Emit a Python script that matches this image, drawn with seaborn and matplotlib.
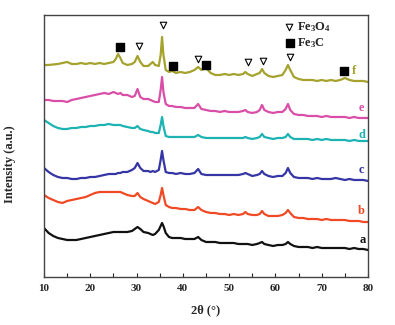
import numpy as np
import pandas as pd
import matplotlib
matplotlib.use("Agg")
import matplotlib.pyplot as plt
import seaborn as sns

two_theta = [10, 11, 12, 13, 14, 15, 16, 17, 18, 19, 20, 21, 22, 23, 24, 25, 25.5, 26, 26.5, 27,
             28, 29, 29.6, 30.2, 30.8, 31.5, 32.5, 33, 33.5, 34, 34.8, 35.2, 35.5, 35.8, 36.3, 37,
             37.7, 38.5, 39.5, 40.5, 41.5, 42.5, 43.3, 44, 45, 46, 47, 48, 49, 50, 51, 52, 53, 53.5,
             54, 55, 56, 56.6, 57.1, 57.6, 58.5, 59.5, 60.5, 61.5, 62.2, 62.7, 63.2, 64, 65, 66, 67,
             68, 69, 70, 71, 72, 73, 74, 75, 76, 77, 78, 79, 80]

f_int = [212, 212, 212.5, 213, 214, 215, 213, 213, 214, 213, 214, 213, 214, 213, 214, 215, 218, 223, 219, 214,
         212, 213, 215, 221, 215, 211, 211, 213, 215, 212, 211, 222, 240, 222, 207, 205,
         206, 204, 205, 204, 205, 207, 210, 207, 209, 204, 202, 202, 203, 202, 203, 202, 203, 205,
         203, 201, 203, 204, 208, 204, 201, 200, 201, 202, 207, 212, 207, 200, 198, 197, 197,
         197, 196, 197, 196, 197, 196, 197, 199, 197, 196, 196, 196, 195]
e_int = [177, 177, 176, 176, 176, 175, 177, 178, 179, 180, 181, 182, 183, 184, 183, 185, 184, 183, 184, 182,
         182, 180, 181, 188, 180, 178, 178, 177, 176, 175, 175, 187, 200, 185, 173, 171,
         171, 170, 170, 169, 169, 169, 173, 168, 167, 166, 166, 165, 166, 165, 165, 165, 166, 167,
         165, 164, 165, 167, 172, 167, 165, 164, 165, 165, 168, 173, 167, 163, 162, 162, 161,
         161, 161, 160, 161, 160, 160, 160, 160, 159, 160, 159, 159, 159]
d_int = [157, 154, 151, 149, 148, 148, 149, 149, 150, 150, 151, 151, 152, 152, 153, 152, 152, 152, 152, 151,
         150, 149, 149, 151, 148, 147, 146, 145, 145, 144, 144, 152, 160, 151, 141, 140,
         140, 140, 140, 140, 140, 140, 142, 140, 139, 139, 139, 139, 139, 139, 139, 139, 139, 140,
         139, 138, 139, 140, 143, 140, 139, 138, 139, 139, 140, 143, 140, 138, 138, 138, 138,
         137, 138, 137, 138, 137, 137, 137, 137, 136, 137, 136, 136, 136]
c_int = [109, 105, 102, 100, 99, 99, 98, 98, 99, 99, 100, 100, 101, 102, 103, 103, 103, 104, 104, 105,
         105, 107, 109, 114, 109, 106, 106, 105, 106, 105, 107, 117, 126, 117, 105, 104,
         104, 103, 104, 103, 103, 104, 108, 103, 102, 102, 102, 102, 102, 102, 102, 102, 103, 104,
         103, 101, 102, 103, 106, 103, 101, 100, 101, 101, 104, 109, 104, 100, 99, 99, 99,
         98, 99, 98, 98, 98, 99, 98, 97, 98, 97, 97, 97, 96]
b_int = [82, 79, 77, 75, 74, 76, 77, 78, 79, 80, 82, 84, 85, 85, 85, 85, 85, 85, 85, 84,
         82, 81, 81, 84, 80, 78, 76, 75, 74, 73, 75, 82, 89, 82, 72, 70,
         69, 69, 68, 68, 67, 67, 70, 67, 65, 64, 64, 63, 63, 62, 63, 62, 63, 65,
         63, 62, 62, 63, 66, 63, 61, 61, 61, 62, 64, 67, 64, 60, 59, 59, 58,
         58, 58, 57, 58, 57, 57, 57, 57, 56, 56, 56, 55, 55]
a_int = [49, 44, 41, 39, 38, 37, 37, 37, 38, 39, 40, 41, 42, 43, 44, 45, 45, 45, 45, 45,
         45, 46, 48, 50, 48, 45, 44, 43, 42, 43, 47, 51, 54, 51, 44, 40,
         39, 39, 39, 38, 38, 38, 40, 37, 35, 35, 35, 34, 34, 34, 34, 33, 33, 33,
         33, 32, 33, 34, 35, 33, 32, 31, 32, 32, 33, 35, 33, 31, 30, 30, 30,
         29, 30, 29, 29, 29, 29, 29, 29, 28, 29, 28, 28, 27]

samples = ["a", "b", "c", "d", "e", "f"]
colors = ["#111111", "#f04a25", "#3535a5", "#1db3b3", "#d94fa8", "#a5a22e"]
label_pos_x = [78.8, 78.6, 78.6, 78.6, 78.6, 77.0]
label_pos_y = [37, 66, 107, 142, 169, 206]

fe3o4_x = [35.6, 30.5, 43.3, 54.1, 57.3, 63.1]
fe3o4_y = [252, 231, 218, 215, 216, 220]
fe3c_x = [26.5, 37.9, 45.0, 74.8]
fe3c_y = [230, 211, 212, 206]

series = {"a": a_int, "b": b_int, "c": c_int, "d": d_int, "e": e_int, "f": f_int}
df = pd.concat([pd.DataFrame({"two_theta": two_theta, "intensity": v, "sample": k})
                for k, v in series.items()], ignore_index=True)

sns.set_style("white")
plt.rcParams["font.family"] = ["Liberation Serif", "DejaVu Serif"]
plt.rcParams["font.weight"] = "bold"
plt.rcParams["mathtext.fontset"] = "custom"
plt.rcParams["mathtext.rm"] = "Liberation Serif:bold"
plt.rcParams["mathtext.it"] = "Liberation Serif:bold"
plt.rcParams["mathtext.default"] = "rm"

fig = plt.figure(figsize=(3.95, 3.25), dpi=100)
ax = fig.add_axes([0.1114, 0.1477, 0.8203, 0.8062])
sns.lineplot(data=df, x="two_theta", y="intensity", hue="sample", hue_order=samples,
             palette=colors, legend=False, linewidth=1.6, ax=ax, sort=False)

ax.scatter(fe3o4_x, fe3o4_y, marker="v", s=22, facecolors="white", edgecolors="black",
           linewidths=0.8, zorder=5)
ax.scatter(fe3c_x, fe3c_y, marker="s", s=26, color="black", zorder=5)

for s, c, lx, ly in zip(samples, colors, label_pos_x, label_pos_y):
    ax.text(lx, ly, s, color=c, fontsize=9, fontweight="bold", ha="center", va="center")

# legend
ax.scatter([63.0], [250], marker="v", s=22, facecolors="white", edgecolors="black",
           linewidths=0.8, zorder=5, clip_on=False)
ax.text(64.6, 250, "Fe$_3$O$_4$", fontsize=9, fontweight="bold", va="center", ha="left")
ax.scatter([63.2], [234], marker="s", s=26, color="black", zorder=5, clip_on=False)
ax.text(64.6, 234, "Fe$_3$C", fontsize=9, fontweight="bold", va="center", ha="left")

ax.set_xlim(10, 80)
ax.set_ylim(0, 262)
ax.set_xticks([10, 20, 30, 40, 50, 60, 70, 80])
ax.set_xticks([15, 25, 35, 45, 55, 65, 75], minor=True)
ax.set_yticks([])
ax.tick_params(axis="x", which="both", direction="in", length=3, width=0.8,
               labelsize=8, pad=5, bottom=True, top=False)
for lbl in ax.get_xticklabels():
    lbl.set_fontweight("bold")
for sp in ax.spines.values():
    sp.set_color("#444444")
    sp.set_linewidth(1.0)
ax.set_xlabel("2θ (°)", fontsize=9, fontweight="bold", labelpad=8)
ax.set_ylabel("Intensity (a.u.)", fontsize=9, fontweight="bold")
ax.yaxis.set_label_coords(-0.085, 0.43)

fig.savefig("out.png", dpi=100)
